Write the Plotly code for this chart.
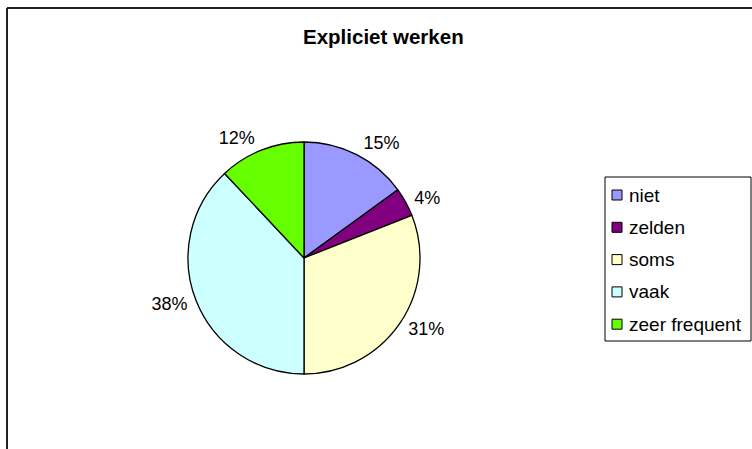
import plotly.graph_objects as go

# Answer categories and their shares (percent)
categories = ["niet", "zelden", "soms", "vaak", "zeer frequent"]
shares = [15, 4, 31, 38, 12]
slice_colors = ["#9999FF", "#800080", "#FFFFCC", "#CCFFFF", "#66FF00"]

W, H = 752, 449
FONT = "Liberation Sans, Arial, sans-serif"
CX, CY, R = 304, 258, 116      # pie centre / radius in pixels
R_LABEL = 120                  # radius used to set the percentage labels off the edge


def pie_domain(radius):
    return dict(x=[(CX - radius) / W, (CX + radius) / W],
                y=[(H - CY - radius) / H, (H - CY + radius) / H])


fig = go.Figure()
# Visible pie
fig.add_trace(go.Pie(
    labels=categories,
    values=shares,
    sort=False,
    direction="clockwise",
    rotation=0,
    marker=dict(colors=slice_colors, line=dict(color="#000000", width=1.3)),
    textinfo="none",
    showlegend=False,
    hoverinfo="label+percent",
    domain=pie_domain(R),
))
# Transparent companion pie carrying the outside percentage labels
fig.add_trace(go.Pie(
    labels=categories,
    values=shares,
    sort=False,
    direction="clockwise",
    rotation=0,
    marker=dict(colors=["rgba(0,0,0,0)"] * len(categories),
                line=dict(color="rgba(0,0,0,0)", width=0)),
    textinfo="percent",
    texttemplate="%{percent:.0%}",
    textposition="outside",
    textfont=dict(family=FONT, size=18, color="#000000"),
    showlegend=False,
    hoverinfo="skip",
    domain=pie_domain(R_LABEL),
))

shapes = []
annotations = []

# Chart frame (top and left edges visible)
shapes.append(dict(type="line", xref="paper", yref="paper",
                   x0=7 / W, x1=1.0, y0=1 - 8 / H, y1=1 - 8 / H,
                   line=dict(color="#222222", width=2)))
shapes.append(dict(type="line", xref="paper", yref="paper",
                   x0=7 / W, x1=7 / W, y0=0, y1=1 - 8 / H,
                   line=dict(color="#222222", width=2)))

# Legend box
lx0, lx1, ly0, ly1 = 605, 751, 177, 341
shapes.append(dict(type="rect", xref="paper", yref="paper",
                   x0=lx0 / W, x1=lx1 / W, y0=1 - ly1 / H, y1=1 - ly0 / H,
                   line=dict(color="#000000", width=1), fillcolor="rgba(0,0,0,0)"))

row_y0, row_step = 195, 32.3
for i, (name, col) in enumerate(zip(categories, slice_colors)):
    yc = row_y0 + i * row_step
    shapes.append(dict(type="rect", xref="paper", yref="paper",
                       x0=612 / W, x1=622 / W,
                       y0=1 - (yc + 5) / H, y1=1 - (yc - 5) / H,
                       line=dict(color="#000000", width=1), fillcolor=col))
    annotations.append(dict(xref="paper", yref="paper", x=627 / W, y=1 - yc / H,
                            xanchor="left", yanchor="middle", showarrow=False,
                            text=name, font=dict(family=FONT, size=19, color="#000000")))

# Title
annotations.append(dict(xref="paper", yref="paper", x=383 / W, y=1 - 36 / H,
                        xanchor="center", yanchor="middle", showarrow=False,
                        text="<b>Expliciet werken</b>",
                        font=dict(family=FONT, size=20.5, color="#000000")))

fig.update_layout(
    width=W, height=H,
    margin=dict(l=0, r=0, t=0, b=0),
    paper_bgcolor="#FFFFFF",
    plot_bgcolor="#FFFFFF",
    shapes=shapes,
    annotations=annotations,
    showlegend=False,
)

fig.write_html("out.html")
